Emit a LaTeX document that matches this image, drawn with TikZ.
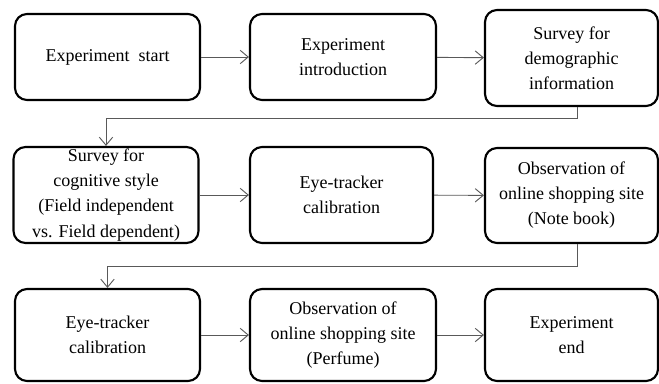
\documentclass[tikz,border=0pt]{standalone}
\usepackage{fontspec}
\setmainfont{Liberation Serif}
\usetikzlibrary{arrows.meta,positioning}

\tikzset{
    stagebox/.style={draw=black, line width=1.6pt, rounded corners=9pt, align=center,
        inner sep=0pt, font=\fontsize{13.5}{18.8}\selectfont},
    flow/.style={draw=black!65, line width=0.7pt, -{Straight Barb[length=6pt,width=10pt,line width=0.7pt]}}
}

\begin{document}
\begin{tikzpicture}[x=0.75pt,y=-0.75pt]
    \useasboundingbox (0,0) rectangle (659,383);
    % row 1
    \node[stagebox, minimum width=185*0.75pt, minimum height=86*0.75pt] (start) at (107.5,57) {Experiment\ \ start};
    \node[stagebox, minimum width=186*0.75pt, minimum height=86*0.75pt] (intro) at (343,57) {Experiment\\introduction};
    \node[stagebox, minimum width=173*0.75pt, minimum height=96*0.75pt] (demo) at (571.5,58) {Survey for\\demographic\\information};
    % row 2
    \node[stagebox, minimum width=185*0.75pt, minimum height=96*0.75pt] (cogn) at (106,195) {Survey for\\cognitive style\\(Field independent\\vs. Field dependent)};
    \node[stagebox, minimum width=183*0.75pt, minimum height=96*0.75pt] (calA) at (341.5,195) {Eye-tracker\\calibration};
    \node[stagebox, minimum width=173*0.75pt, minimum height=95*0.75pt] (obsA) at (571.5,195.5) {Observation of\\online shopping site\\(Note book)};
    % row 3
    \node[stagebox, minimum width=185*0.75pt, minimum height=92*0.75pt] (calB) at (107.5,335) {Eye-tracker\\calibration};
    \node[stagebox, minimum width=186*0.75pt, minimum height=92*0.75pt] (obsB) at (343,335) {Observation of\\online shopping site\\(Perfume)};
    \node[stagebox, minimum width=173*0.75pt, minimum height=92*0.75pt] (finish) at (571.5,335) {Experiment\\end};

    \coordinate (bendA) at (577,118);
    \coordinate (bendB) at (577,266);

    \draw[flow] (start) -- (intro);
    \draw[flow] (intro) -- (demo);
    \draw[flow] (demo.south -| bendA) -- (bendA) -| (cogn.north);
    \draw[flow] (cogn) -- (calA);
    \draw[flow] (calA) -- (obsA);
    \draw[flow] (obsA.south -| bendB) -- (bendB) -| (calB.north);
    \draw[flow] (calB) -- (obsB);
    \draw[flow] (obsB) -- (finish);
\end{tikzpicture}
\end{document}
